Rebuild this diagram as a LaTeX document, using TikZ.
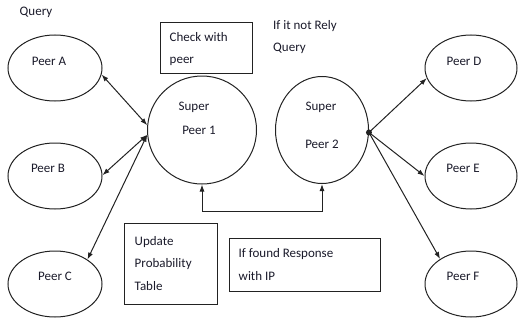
\documentclass[tikz,border=0pt]{standalone}
\usepackage{fontspec}
\setmainfont{Carlito}
\usetikzlibrary{arrows.meta,calc,positioning,shapes.geometric}
\definecolor{spink}{HTML}{222222}
\definecolor{sptext}{HTML}{1A1A2A}
\newcommand{\spfont}{\fontsize{13}{22.5}\selectfont}
\tikzset{
  peervertex/.style={draw=spink,ellipse,line width=1pt,
    minimum width=94pt,minimum height=66pt,inner sep=0pt},
  supervertex/.style={peervertex,minimum width=109pt,minimum height=108pt},
  peerlabel/.style={inner sep=0pt,text=sptext,font=\spfont},
  notebox/.style={draw=spink,line width=1pt,inner sep=0pt},
  notetext/.style={peerlabel,anchor=west,align=left},
  hubdot/.style={circle,fill=spink,minimum size=6pt,inner sep=0pt},
  peerarrow/.style={draw=spink,line width=1pt,{Latex[length=7pt,width=5pt]}-{Latex[length=7pt,width=5pt]}},
  fwdarrow/.style={draw=spink,line width=1pt,-{Latex[length=7pt,width=5pt]}},
}

\begin{document}
\begin{tikzpicture}[x=1pt,y=-1pt]
        \useasboundingbox (0,0) rectangle (518,321);
        % peers on the left
        \node[peervertex] (pA) at (55,68) {};
        \node[peervertex] (pB) at (55,176) {};
        \node[peervertex] (pC) at (55,284) {};
        \node[peerlabel] (lA) at (49,61) {Peer A};
        \node[peerlabel] (lB) at (48,168) {Peer B};
        \node[peerlabel] (lC) at (55,276) {Peer C};
        % peers on the right
        \node[peervertex,minimum width=92pt] (pD) at (471,68) {};
        \node[peervertex,minimum width=92pt] (pE) at (471,176) {};
        \node[peervertex,minimum width=92pt] (pF) at (471,284) {};
        \node[peerlabel] (lD) at (464,61) {Peer D};
        \node[peerlabel] (lE) at (463,168) {Peer E};
        \node[peerlabel] (lF) at (463,276) {Peer F};
        % super peers
        \node[supervertex] (sp1) at (202,130) {};
        \node[supervertex,minimum width=93pt,minimum height=107pt] (sp2) at (322,130) {};
        \node[peerlabel] (ls1a) at (194,107) {Super};
        \node[peerlabel] (ls1b) at (199,130) {Peer 1};
        \node[peerlabel] (ls2a) at (321,107) {Super};
        \node[peerlabel] (ls2b) at (322,144) {Peer 2};
        \node[hubdot] (hub) at (sp2.-3) {};
        % notes
        \node[peerlabel] (qry) at (36,12) {Query};
        \node[notetext] (rely) at (273,37) {If it not Rely\\Query};
        \node[notebox,minimum width=92pt,minimum height=50pt] (chk) at (206,48) {};
        \node[notetext] (chkt) at ([xshift=10pt,yshift=-1pt]chk.west) {Check with\\peer};
        \node[notebox,minimum width=93pt,minimum height=81pt] (upd) at (170.5,263.5) {};
        \node[notetext] (updt) at ([xshift=11pt]upd.west) {Update\\Probability\\Table};
        \node[notebox,minimum width=151pt,minimum height=53pt] (fnd) at (304.5,264.5) {};
        \node[notetext] (fndt) at ([xshift=10pt]fnd.west) {If found Response\\with IP};
        % connectors
        \draw[peerarrow] (pA.-8) -- (sp1.175);
        \draw[peerarrow] (pB.1) -- (sp1.185);
        \draw[peerarrow] (pC.37) -- (sp1.185);
        \draw[fwdarrow] (hub.center) -- (pD.193);
        \draw[fwdarrow] (hub.center) -- (pE.west);
        \draw[fwdarrow] (hub.center) -- (pF.141);
        \draw[peerarrow] (sp1.south) -- ++(0,27) -| (sp2.south);
      \end{tikzpicture}
\end{document}
